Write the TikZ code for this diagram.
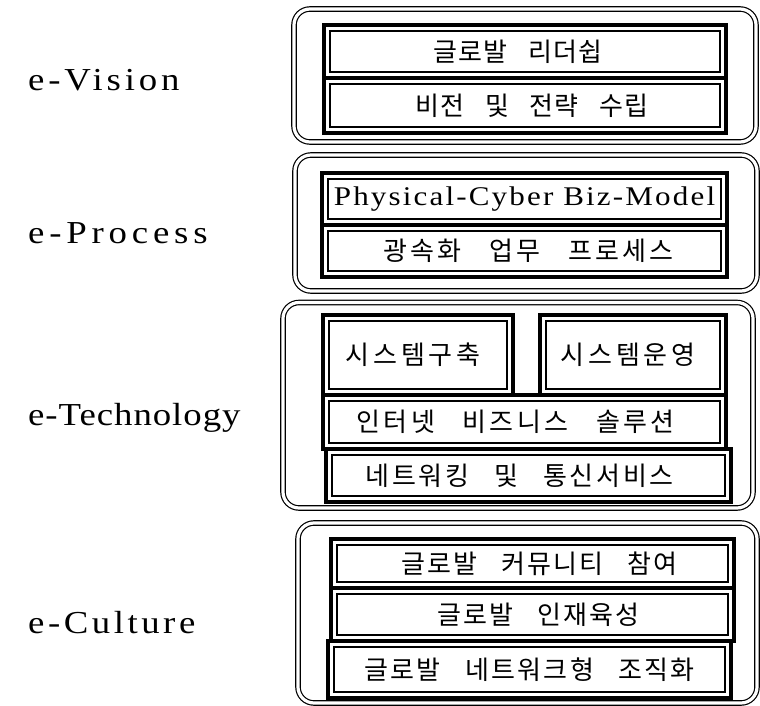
\documentclass[tikz,border=0pt]{standalone}
\usepackage{fontspec}
\setmainfont{Liberation Serif}
\newfontfamily\krfont[WordSpace=3]{Noto Sans CJK KR}
\newfontfamily\latfont[FakeStretch=1.15]{Liberation Serif}
% #1: twice the horizontal offset (pt), #2: letter spacing, #3: text
\newcommand{\ktext}[3]{\raisebox{-3pt}{\kern#1pt\krfont\fontsize{26}{30}\selectfont\addfontfeatures{LetterSpace=#2}#3}}
\newcommand{\ltext}[3]{\latfont\fontsize{#1}{#1}\selectfont\addfontfeatures{LetterSpace=#2}#3}
\tikzset{
  grp/.style={draw, double, line width=1.2pt, double distance=3.2pt, rounded corners=16pt, inner sep=0pt},
  cell/.style={draw, line width=4pt, inner sep=0pt, align=center,
    path picture={\draw[line width=1.4pt]
      ([shift={(6pt,-6pt)}]path picture bounding box.north west) rectangle
      ([shift={(-6pt,6pt)}]path picture bounding box.south east);}},
  lab/.style={anchor=base west, inner sep=0pt}
}
\begin{document}
\begin{tikzpicture}[x=1pt,y=-1pt]
\useasboundingbox (0,0) rectangle (760,706);
% groups
\node[grp, minimum width=462pt, minimum height=133pt] (g1) at (525,75.5) {};
\node[grp, minimum width=462pt, minimum height=136pt] (g2) at (526,223) {};
\node[grp, minimum width=470pt, minimum height=205.5pt] (g3) at (518,405.25) {};
\node[grp, minimum width=459pt, minimum height=180pt] (g4) at (527.5,613) {};
% labels
\node[lab] (l1) at (28,91) {\ltext{32}{12}{e-Vision}};
\node[lab] (l2) at (28,243) {\ltext{32}{15}{e-Process}};
\node[lab] (l3) at (28,425) {\ltext{32}{3}{e-Technology}};
\node[lab] (l4) at (28,633) {\ltext{32}{11}{e-Culture}};
% e-Vision
\node[cell, minimum width=402pt, minimum height=53pt] (v1) at (525,51.5) {\ktext{-14}{4}{글로발 리더쉽}};
\node[cell, minimum width=402pt, minimum height=55pt] (v2) at (525,105.5) {\ktext{14}{4}{비전 및 전략 수립}};
% e-Process
\node[cell, minimum width=405pt, minimum height=52pt] (p1) at (524.5,199) {\ltext{27}{8}{Physical-Cyber Biz-Model}};
\node[cell, minimum width=405pt, minimum height=52pt] (p2) at (524.5,251) {\ktext{8}{13}{광속화 업무 프로세스}};
% e-Technology
\node[cell, minimum width=190pt, minimum height=80pt] (t1) at (418,355) {\ktext{-10}{15}{시스템구축}};
\node[cell, minimum width=186pt, minimum height=80pt] (t2) at (633,355) {\ktext{-10}{15}{시스템운영}};
\node[cell, minimum width=403pt, minimum height=54pt] (t3) at (524.5,422) {\ktext{-18}{13}{인터넷 비즈니스 솔루션}};
\node[cell, minimum width=405pt, minimum height=53pt] (t4) at (528.5,475.5) {\ktext{-18}{10}{네트워킹 및 통신서비스}};
% e-Culture
\node[cell, minimum width=403pt, minimum height=49pt] (c1) at (532.5,563.5) {\ktext{14}{8}{글로발 커뮤니티 참여}};
\node[cell, minimum width=403pt, minimum height=53pt] (c2) at (532.5,614.5) {\ktext{12}{8}{글로발 인재육성}};
\node[cell, minimum width=403pt, minimum height=57pt] (c3) at (529.5,669.5) {\ktext{0}{9}{글로발 네트워크형 조직화}};
\end{tikzpicture}
\end{document}
